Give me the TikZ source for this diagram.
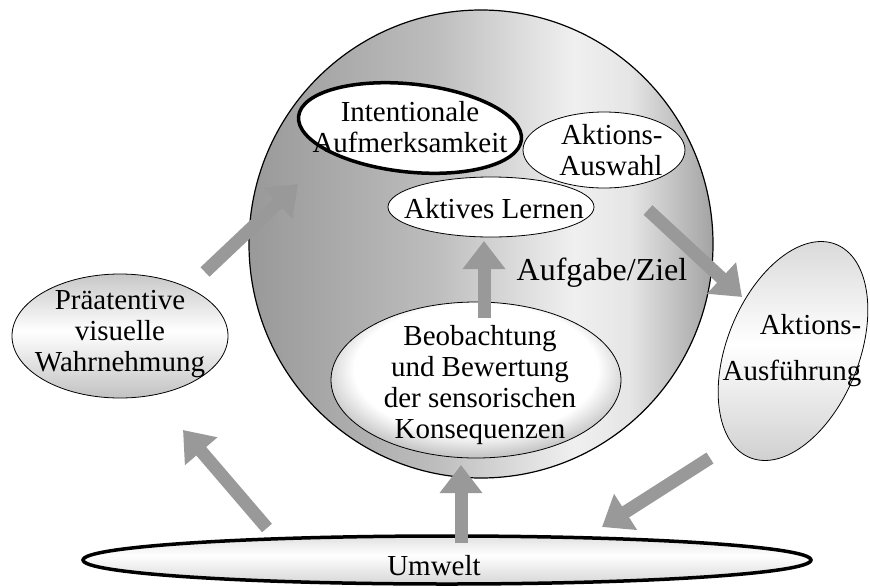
\documentclass[tikz,border=0pt]{standalone}
\usepackage{fontspec}
\setmainfont{Liberation Serif}
\usetikzlibrary{shapes.geometric,arrows.meta}
\definecolor{arrowgray}{gray}{0.6}
\pgfdeclarehorizontalshading{bigshade}{100bp}{color(0bp)=(black!40); color(25bp)=(black!40); color(45bp)=(black!26); color(60bp)=(black!6); color(66bp)=(black!10); color(75bp)=(black!36); color(100bp)=(black!36)}
\pgfdeclareverticalshading{bandshade}{100bp}{color(0bp)=(black!24); color(25bp)=(black!24); color(52bp)=(white); color(75bp)=(black!22); color(100bp)=(black!22)}
\pgfdeclareverticalshading{lightband}{100bp}{color(0bp)=(black!18); color(25bp)=(black!18); color(50bp)=(white); color(75bp)=(black!16); color(100bp)=(black!16)}
\pgfdeclareverticalshading{flatshade}{100bp}{color(0bp)=(black!16); color(25bp)=(black!16); color(55bp)=(white); color(75bp)=(black!12); color(100bp)=(black!12)}
\pgfdeclareradialshading{obsshade}{\pgfpoint{0bp}{6bp}}{color(0bp)=(white); color(21bp)=(white); color(27bp)=(black!22); color(50bp)=(black!22)}
\tikzset{
  blob/.style={ellipse, draw=black, line width=0.8pt, inner sep=0pt},
  txt/.style={font=\fontsize{29}{31}\selectfont, align=center, inner sep=0pt},
  bigarrow/.style={draw=arrowgray, line width=13pt, line cap=butt, -{Triangle[width=41pt,length=28pt]}}
}
\begin{document}
\begin{tikzpicture}[x=1pt,y=-1pt]
\useasboundingbox (0,0) rectangle (870,587);
% shapes
\node[blob, line width=1.2pt, shading=bigshade, minimum width=464pt, minimum height=468pt] (big) at (481,244) {};
\node[blob, fill=white, line width=3.5pt, minimum width=224pt, minimum height=88pt, rotate=-6] (intent) at (410,128) {};
\node[blob, fill=white, minimum width=162pt, minimum height=76pt] (auswahl) at (604,150) {};
\node[blob, fill=white, minimum width=206pt, minimum height=60pt] (lernen) at (491,207) {};
\node[blob, shading=obsshade, minimum width=290pt, minimum height=156pt] (obs) at (476,380) {};
\node[blob, shading=bandshade, minimum width=216pt, minimum height=124pt] (prae) at (120,336) {};
\node[blob, shading=lightband, minimum width=132pt, minimum height=230pt, rotate=-22] (ausf) at (793,351) {};
\node[blob, shading=flatshade, line width=3.5pt, minimum width=728pt, minimum height=48pt] (umwelt) at (447,560) {};
% texts
\node[txt] (intentT) at (410,127) {Intentionale\\Aufmerksamkeit};
\node[txt, align=right] (auswahlT) at (611,150) {Aktions-\\Auswahl};
\node[txt] (lernenT) at (494,209) {Aktives Lernen};
\node[txt, font=\fontsize{32}{34}\selectfont] (ziel) at (602,273) {Aufgabe/Ziel};
\node[txt] (obsT) at (480,385) {Beobachtung\\und Bewertung\\der sensorischen\\Konsequenzen};
\node[txt] (praeT) at (120,334) {Präatentive\\visuelle\\Wahrnehmung};
\node[txt, align=right] (ausfT) at (792,351) {Aktions-\\[15pt]Ausführung};
\node[txt] (umweltT) at (434,566) {Umwelt};
% arrow end points
\coordinate (a1s) at (205,272); \coordinate (a1e) at (298,184);
\coordinate (a2s) at (484,318); \coordinate (a2e) at (484,241);
\coordinate (a3s) at (648,210); \coordinate (a3e) at (742,297);
\coordinate (a4s) at (710,458); \coordinate (a4e) at (602,527);
\coordinate (a5s) at (267,528); \coordinate (a5e) at (183,430);
\coordinate (a6s) at (461,543); \coordinate (a6e) at (461,465);
\draw[bigarrow] (a1s) -- (a1e);
\draw[bigarrow] (a2s) -- (a2e);
\draw[bigarrow] (a3s) -- (a3e);
\draw[bigarrow] (a4s) -- (a4e);
\draw[bigarrow] (a5s) -- (a5e);
\draw[bigarrow] (a6s) -- (a6e);
\end{tikzpicture}
\end{document}
